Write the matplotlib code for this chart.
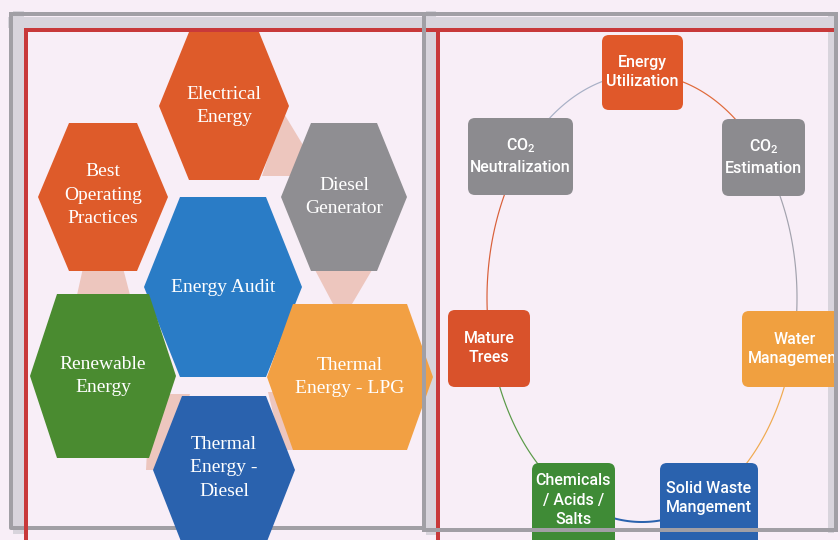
import numpy as np
import matplotlib
matplotlib.use("Agg")
from matplotlib import pyplot as plt
from matplotlib.patches import Polygon, FancyBboxPatch

# --- DATOS (etiquetas del diagrama) ---
hex_labels = ["Electrical\nEnergy", "Best\nOperating\nPractices", "Diesel\nGenerator",
              "Energy Audit", "Renewable\nEnergy", "Thermal\nEnergy - LPG",
              "Thermal\nEnergy -\nDiesel"]
box_labels = ["Energy\nUtilization", "$\\mathregular{CO_2}$\nEstimation", "Water\nManagement",
              "Solid Waste\nMangement", "Chemicals\n/ Acids /\nSalts", "Mature\nTrees",
              "$\\mathregular{CO_2}$\nNeutralization"]

# --- layout (pixeles) ---
# hexagonos: cx, cy, semiancho, semialto, mitad del lado superior
hex_geom = [(224, 106, 65, 74, 35), (103, 197, 65, 74, 34), (344, 197, 63, 74, 33),
            (223, 287, 79, 90, 43), (103, 376, 73, 82, 46), (350, 377, 83, 73, 57),
            (224, 470, 71, 74, 42)]
hex_colors = ["#de5b2a", "#de5b2a", "#8f8e92", "#2a7cc6", "#4a8b30", "#f2a043", "#2a62ae"]
hex_text_y = [106, 195, 197, 287, 376, 377, 468]

# cajas: x0, y0, x1, y1
box_geom = [(602, 35, 683, 110), (722, 119, 805, 196), (742, 311, 848, 387),
            (660, 463, 758, 560), (532, 463, 615, 560), (448, 310, 530, 387),
            (468, 118, 573, 195)]
box_colors = ["#e0582a", "#8c8b8f", "#f0a040", "#2a62ae", "#3f8b36", "#d9522b", "#8c8b8f"]
box_text_y = [72, 157, 349, 498, 500, 348, 156]
arc_colors = ["#e06a3a", "#a3a3ae", "#f0aa50", "#2a62ae", "#5a9a48", "#d9603a", "#a8b0c6"]

bg = "#f8eef7"
gris = "#a19fa5"
banda = "#d8d4dc"
rojo = "#c8393a"
rosa = "#edc6be"

fig = plt.figure(figsize=(8.4, 5.4), dpi=100, facecolor=bg)
ax = fig.add_axes([0, 0, 1, 1])
ax.set_xlim(0, 840)
ax.set_ylim(540, 0)
ax.axis("off")
ax.set_facecolor(bg)

px = 0.72  # 1 pixel en puntos

# bandas claras (entre el gris y el rojo)
ax.plot([18, 18], [16, 528], color=banda, lw=11 * px, zorder=1)
ax.plot([13, 424], [22, 22], color=banda, lw=11 * px, zorder=1)
ax.plot([431, 431], [16, 530], color=banda, lw=10 * px, zorder=1)
ax.plot([424, 836], [22, 22], color=banda, lw=11 * px, zorder=1)
ax.plot([831, 831], [16, 530], color=banda, lw=6 * px, zorder=1)

# marcos grises
ax.plot([11, 424, 424, 11, 11], [14, 14, 528, 528, 14], color=gris, lw=4 * px, zorder=1.5)
ax.plot([424, 836], [14, 14], color=gris, lw=4 * px, zorder=1.5)

# lineas rojas
ax.plot([26, 840], [30, 30], color=rojo, lw=4 * px, zorder=2)
ax.plot([26, 26], [30, 540], color=rojo, lw=4 * px, zorder=2)
ax.plot([438, 438], [30, 540], color=rojo, lw=4 * px, zorder=2)

# conectores rosados entre hexagonos
conectores = [[(283, 112), (306, 150), (296, 176), (262, 176)],
              [(83, 268), (123, 268), (130, 295), (77, 295)],
              [(315, 270), (372, 270), (352, 304), (333, 304)],
              [(150, 394), (190, 394), (166, 470), (146, 470)],
              [(268, 392), (290, 392), (302, 450), (282, 450)]]
for c in conectores:
    ax.add_patch(Polygon(c, closed=True, facecolor=rosa, edgecolor="none", zorder=3))

serif = ["Liberation Serif", "DejaVu Serif"]
for lab, (cx, cy, w, h, a), col, ty in zip(hex_labels, hex_geom, hex_colors, hex_text_y):
    pts = [(cx - w, cy), (cx - a, cy - h), (cx + a, cy - h),
           (cx + w, cy), (cx + a, cy + h), (cx - a, cy + h)]
    ax.add_patch(Polygon(pts, closed=True, facecolor=col, edgecolor="none", zorder=4))
    ax.text(cx, ty, lab, color="white", ha="center", va="center", fontsize=14,
            family=serif, linespacing=1.5, zorder=5)

# gris derecho del panel izquierdo por encima del hexagono LPG
ax.plot([424, 424], [14, 530], color=gris, lw=4 * px, zorder=6)

# elipse de conexion
ecx, ecy, ea, eb = 642, 298, 155, 224
centros = [((x0 + x1) / 2, (y0 + min(y1, 545)) / 2) for (x0, y0, x1, y1) in box_geom]
centros[3] = (709, 505)
centros[4] = (573, 505)
angs = [np.arctan2((y - ecy) / eb, (x - ecx) / ea) for (x, y) in centros]
angs = np.unwrap(angs)
angs = list(angs) + [angs[0] + 2 * np.pi]
for i in range(7):
    t = np.linspace(angs[i], angs[i + 1], 80)
    lw = 2.0 if i == 3 else 1.2
    ax.plot(ecx + ea * np.cos(t), ecy + eb * np.sin(t), color=arc_colors[i], lw=lw * px, zorder=3)

sans = ["Roboto", "DejaVu Sans"]
for lab, (x0, y0, x1, y1), col, ty in zip(box_labels, box_geom, box_colors, box_text_y):
    ax.add_patch(FancyBboxPatch((x0, y0), x1 - x0, y1 - y0,
                                boxstyle="round,pad=0,rounding_size=7",
                                facecolor=col, edgecolor="none", zorder=4))
    ax.text((x0 + x1) / 2, ty, lab, color="white", ha="center", va="center",
            fontsize=11.5, family=sans, weight="medium", linespacing=1.4, zorder=5)

# marco gris del panel derecho encima de las cajas
ax.plot([424, 836], [530, 530], color=gris, lw=4 * px, zorder=6)
ax.plot([836, 836], [14, 530], color=gris, lw=4 * px, zorder=6)
ax.add_patch(plt.Rectangle((838, 0), 10, 540, facecolor=bg, edgecolor="none", zorder=6))

fig.savefig("out.png", dpi=100, facecolor=bg)
